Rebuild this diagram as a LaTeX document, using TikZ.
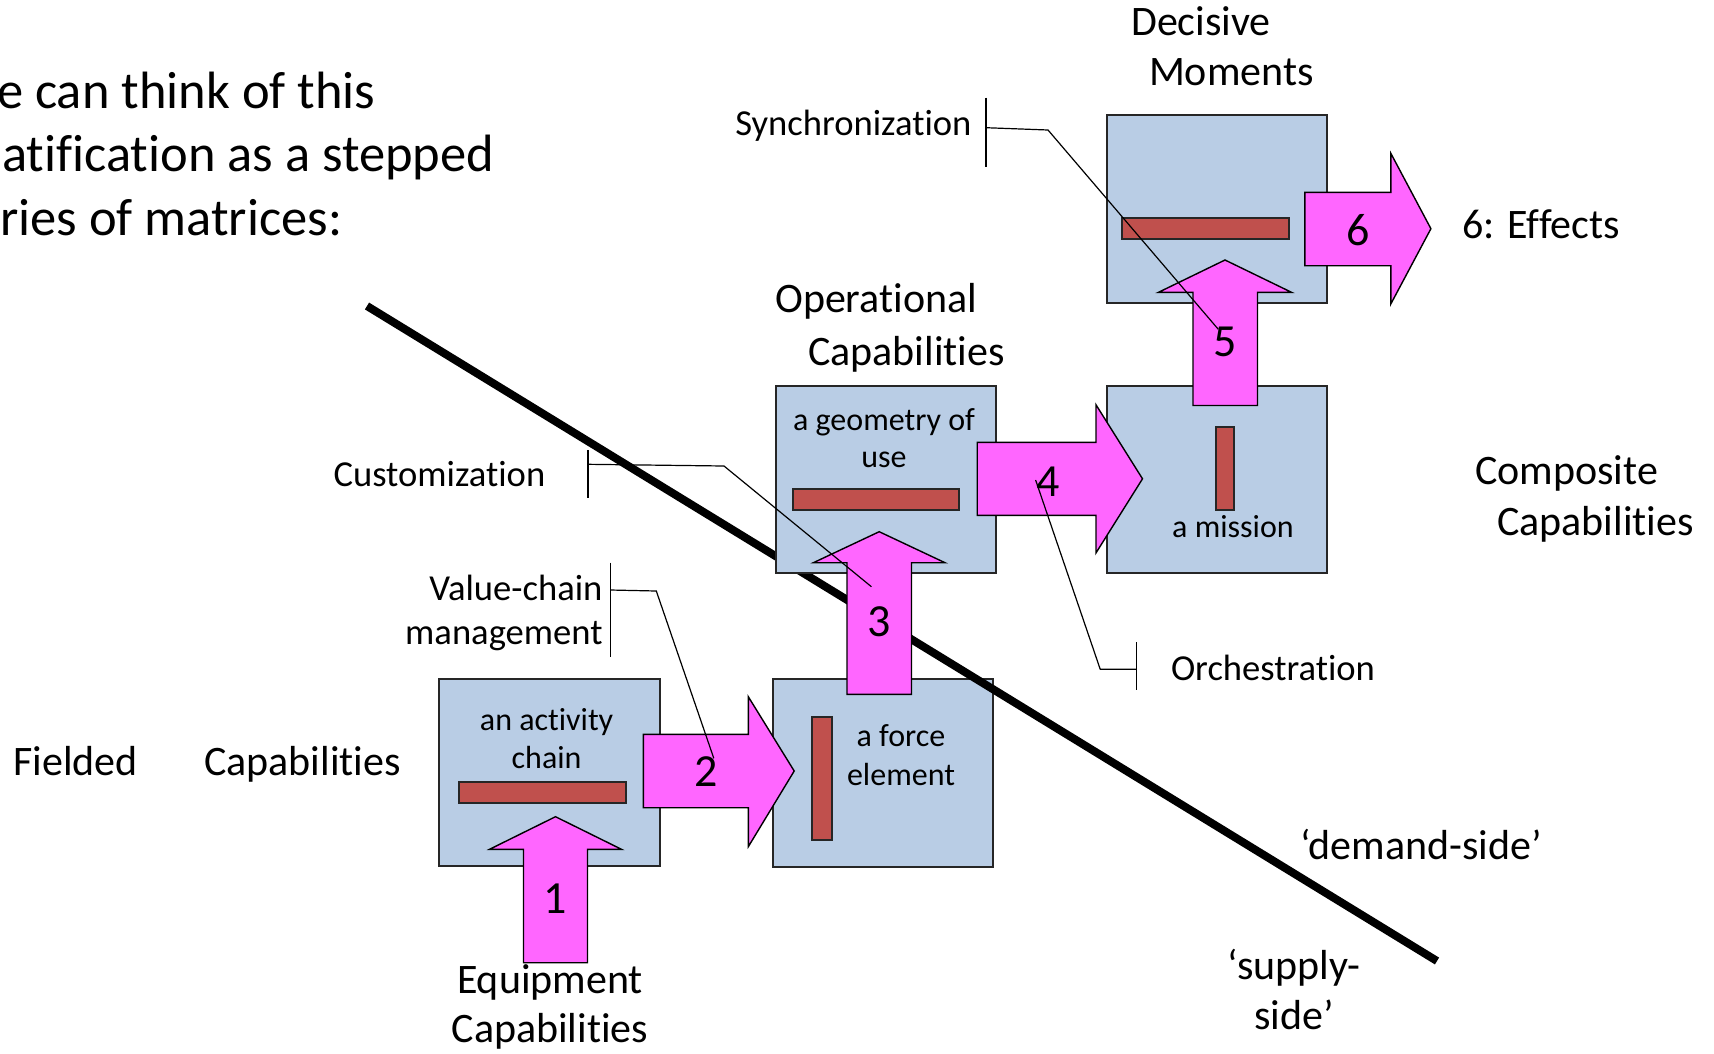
\documentclass[tikz,border=0pt]{standalone}
\usepackage{fontspec}
\setmainfont{Carlito}[Ligatures={NoCommon,NoRare,NoContextual}]
\definecolor{boxblue}{HTML}{B9CDE5}
\definecolor{barred}{HTML}{C0504D}
\definecolor{pinkarr}{HTML}{FF66FF}
\begin{document}
\begin{tikzpicture}[x=1pt,y=-1pt,
  boxs/.style={draw=black!85, line width=1.6pt, fill=boxblue, inner sep=0pt, anchor=north west},
  barstyle/.style={draw=black!85, line width=1.6pt, fill=barred},
  arr/.style={draw=black, line width=1.4pt, fill=pinkarr, line join=miter},
  lead/.style={draw=black, line width=1.2pt},
  bigtxt/.style={font=\fontsize{42}{50}\selectfont, inner sep=0pt},
  smalltxt/.style={font=\fontsize{36.6}{44}\selectfont, inner sep=0pt},
  boxtxt/.style={font=\fontsize{32}{38}\selectfont, inner sep=0pt},
  numtxt/.style={font=\fontsize{46}{54}\selectfont, inner sep=0pt},
  toptxt/.style={font=\fontsize{52.5}{62}\selectfont, inner sep=0pt, anchor=base west}]
\useasboundingbox (0,0) rectangle (1714,1053);
\fill[white] (0,0) rectangle (1714,1053);

% force element box (below the divider line)
\node[boxs, minimum width=220pt, minimum height=188pt] (boxB) at (772,678) {};
% divider line
\coordinate (dl1) at (367,306);
\coordinate (dl2) at (1437,961);
\draw[line width=8pt] (dl1) -- (dl2);
% other boxes
\node[boxs, minimum width=221pt, minimum height=187pt] (boxA) at (438,678) {};
\node[boxs, minimum width=220pt, minimum height=187pt] (boxC) at (775,385) {};
\node[boxs, minimum width=220pt, minimum height=187pt] (boxE) at (1106,385) {};
\node[boxs, minimum width=220pt, minimum height=188pt] (boxD) at (1106,114) {};

% red bars
\draw[barstyle] (459,782) rectangle (626,803);
\draw[barstyle] (812,717) rectangle (832,840);
\draw[barstyle] (793,489) rectangle (959,510);
\draw[barstyle] (1216,427) rectangle (1234,510);
\draw[barstyle] (1122,218) rectangle (1289,239);

% block arrows
\draw[arr] (523.5,962.7) -- (523.5,849.3) -- (489.5,849.3) -- (555.5,816.7) -- (621.5,849.3) -- (587.5,849.3) -- (587.5,962.7) -- cycle;
\draw[arr] (643.4,734.3) -- (748.3,734.3) -- (748.3,696.7) -- (794.2,771) -- (748.3,846.7) -- (748.3,807.7) -- (643.4,807.7) -- cycle;
\draw[arr] (847,694.3) -- (847,562.7) -- (813.4,562.7) -- (879.2,531.7) -- (945,562.7) -- (911.5,562.7) -- (911.5,694.3) -- cycle;
\draw[arr] (977.2,442.3) -- (1096,442.3) -- (1096,404.8) -- (1142.5,478.8) -- (1096,552.9) -- (1096,515.3) -- (977.2,515.3) -- cycle;
\draw[arr] (1193,405.5) -- (1193,292.3) -- (1158.5,292.3) -- (1225,260) -- (1291.5,292.3) -- (1257.5,292.3) -- (1257.5,405.5) -- cycle;
\draw[arr] (1304.8,192.3) -- (1390.8,192.3) -- (1390.8,153.3) -- (1430.9,228.7) -- (1390.8,304) -- (1390.8,265.7) -- (1304.8,265.7) -- cycle;

% numbers
\node[numtxt, anchor=base] (n1) at (555,913.3) {1};
\node[numtxt, anchor=base] (n2) at (706.2,786.7) {2};
\node[numtxt, anchor=base] (n3) at (879,636.7) {3};
\node[numtxt, anchor=base] (n4) at (1048.3,496) {4};
\node[numtxt, anchor=base] (n5) at (1225,356.7) {5};
\node[numtxt, anchor=base] (n6) at (1358.5,245) {6};

% box texts
\node[boxtxt, anchor=base] (ta1) at (546.6,730) {an activity};
\node[boxtxt, anchor=base] (ta2) at (546.6,768.3) {chain};
\node[boxtxt, anchor=base] (tb1) at (901,746.7) {a force};
\node[boxtxt, anchor=base] (tb2) at (901,785) {element};
\node[boxtxt, anchor=base] (tc1) at (884,430) {a geometry of};
\node[boxtxt, anchor=base] (tc2) at (884,467.3) {use};
\node[boxtxt, anchor=base] (te1) at (1233,537.7) {a mission};

% top-left text
\node[toptxt] (tl1) at (-3,108.3) {e can think of this};
\node[toptxt] (tl2) at (2,171.7) {atification as a stepped};
\node[toptxt] (tl3) at (0,235) {ries of matrices:};

% big labels
\node[bigtxt, anchor=base] (dec1) at (1201,35) {Decisive};
\node[bigtxt, anchor=base] (dec2) at (1231.4,85) {Moments};
\node[bigtxt, anchor=base west] (eff) at (1462,238) {6: Effects};
\node[bigtxt, anchor=base west] (op1) at (775,312.5) {Operational};
\node[bigtxt, anchor=base west] (op2) at (808,365) {Capabilities};
\node[bigtxt, anchor=base west] (cp1) at (1475,484.5) {Composite};
\node[bigtxt, anchor=base west] (cp2) at (1497,535) {Capabilities};
\node[bigtxt, anchor=base west] (fd1) at (13,775) {Fielded};
\node[bigtxt, anchor=base west] (fd2) at (204,775) {Capabilities};
\node[bigtxt, anchor=base] (eq1) at (550,993) {Equipment};
\node[bigtxt, anchor=base] (eq2) at (550,1042) {Capabilities};
\node[bigtxt, anchor=base west] (dem) at (1300,859) {‘demand-side’};
\node[bigtxt, anchor=base] (sup1) at (1294,979) {‘supply-};
\node[bigtxt, anchor=base] (sup2) at (1294,1029) {side’};

% small labels
\node[smalltxt, anchor=base east] (sync) at (971.7,135) {Synchronization};
\node[smalltxt, anchor=base east] (cust) at (545.5,486.7) {Customization};
\node[smalltxt, anchor=base east] (val1) at (602.7,600) {Value-chain};
\node[smalltxt, anchor=base east] (val2) at (602.7,644) {management};
\node[smalltxt, anchor=base west] (orch) at (1170.8,680) {Orchestration};

% leader lines
\coordinate (sy1) at (985.9,97.7);
\coordinate (sy2) at (985.9,167.3);
\coordinate (sy3) at (985.9,127.7);
\coordinate (sy4) at (1048,130);
\coordinate (sy5) at (1218.3,329.3);
\draw[lead] (sy1) -- (sy2);
\draw[lead] (sy3) -- (sy4) -- (sy5);

\coordinate (cu1) at (588,450);
\coordinate (cu2) at (588,498.3);
\coordinate (cu3) at (588,464.3);
\coordinate (cu4) at (724,466);
\coordinate (cu5) at (871.4,586.7);
\draw[lead] (cu1) -- (cu2);
\draw[lead] (cu3) -- (cu4) -- (cu5);

\coordinate (va1) at (610.3,562.7);
\coordinate (va2) at (610.3,656.7);
\coordinate (va3) at (610.3,590);
\coordinate (va4) at (656.3,591);
\coordinate (va5) at (713.8,758.3);
\draw[lead] (va1) -- (va2);
\draw[lead] (va3) -- (va4) -- (va5);

\coordinate (or1) at (1136.6,642.2);
\coordinate (or2) at (1136.6,690.1);
\coordinate (or3) at (1136.6,669.2);
\coordinate (or4) at (1100.2,669.2);
\coordinate (or5) at (1035.6,480);
\draw[lead] (or1) -- (or2);
\draw[lead] (or3) -- (or4) -- (or5);
\end{tikzpicture}
\end{document}
